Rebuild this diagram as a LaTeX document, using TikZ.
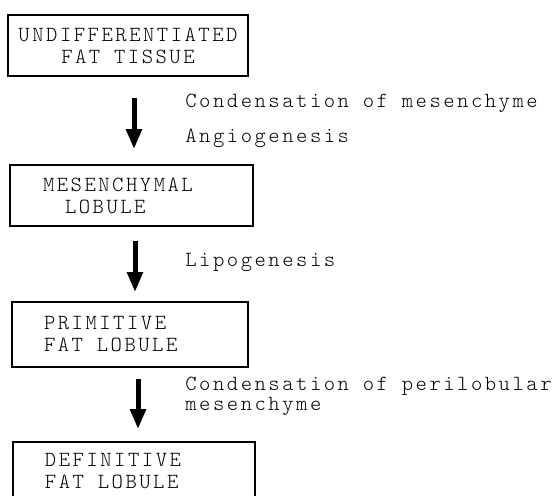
\documentclass[tikz,border=0pt]{standalone}
\usepackage{fontspec}
\usetikzlibrary{arrows.meta}
\newfontfamily\typefont{lmmonolt10-regular.otf}[LetterSpace=11.6]
\newcommand\typesize[1]{\typefont\fontsize{10.8}{#1}\selectfont\fontdimen2\font=6.9pt\fontdimen3\font=0pt\fontdimen4\font=0pt}

\tikzset{
	stage/.style={draw,line width=0.8pt,inner ysep=0pt,font={\typesize{11}},execute at begin node={\spaceskip=6.9pt\relax}},
	remark/.style={anchor=base west,inner sep=0pt,align=left,font={\typesize{8.5}}},
	flow/.style={line width=2.5pt,-{Triangle[width=7.5pt,length=10pt]}},
}

\begin{document}
\begin{tikzpicture}[x=0.5pt,y=-0.5pt]
	\useasboundingbox (0,0) rectangle (558,496);
	\clip (0,0) rectangle (558,496);
	\node[stage,align=center,minimum width=120pt,minimum height=30.5pt] (undiff) at (128,45.5) {UNDIFFERENTIATED\\FAT TISSUE};
	\node[stage,align=left,text width=88.5pt,inner xsep=16.5pt,minimum height=30.5pt] (mesen) at (131.5,195.5) {MESENCHYMAL\\\hspace*{11pt}LOBULE};
	\node[stage,align=left,text width=86pt,inner xsep=16pt,minimum height=32.5pt] (primitive) at (130,334.5) {PRIMITIVE\\FAT LOBULE};
	\node[stage,align=left,text width=89pt,inner xsep=16pt,minimum height=29pt] (definitive) at (134,471) {DEFINITIVE\\FAT LOBULE};
	\draw[flow,shorten <=10.5pt,shorten >=7.5pt] ([xshift=3pt]undiff.south) -- ([xshift=3pt]undiff.south |- mesen.north);
	\draw[flow,shorten <=7pt,shorten >=4.5pt] ([xshift=1.75pt]mesen.south) -- ([xshift=1.75pt]mesen.south |- primitive.north);
	\draw[flow,shorten <=5.5pt,shorten >=6pt] ([xshift=4pt]primitive.south) -- ([xshift=4pt]primitive.south |- definitive.north);
	\node[remark] (condense) at (185,108) {Condensation of mesenchyme};
	\node[remark] (angio) at (185,143) {Angiogenesis};
	\node[remark] (lipo) at (185,267) {Lipogenesis};
	\node[remark] (peri) at (185,411) {Condensation of perilobular\\mesenchyme};
\end{tikzpicture}
\end{document}
